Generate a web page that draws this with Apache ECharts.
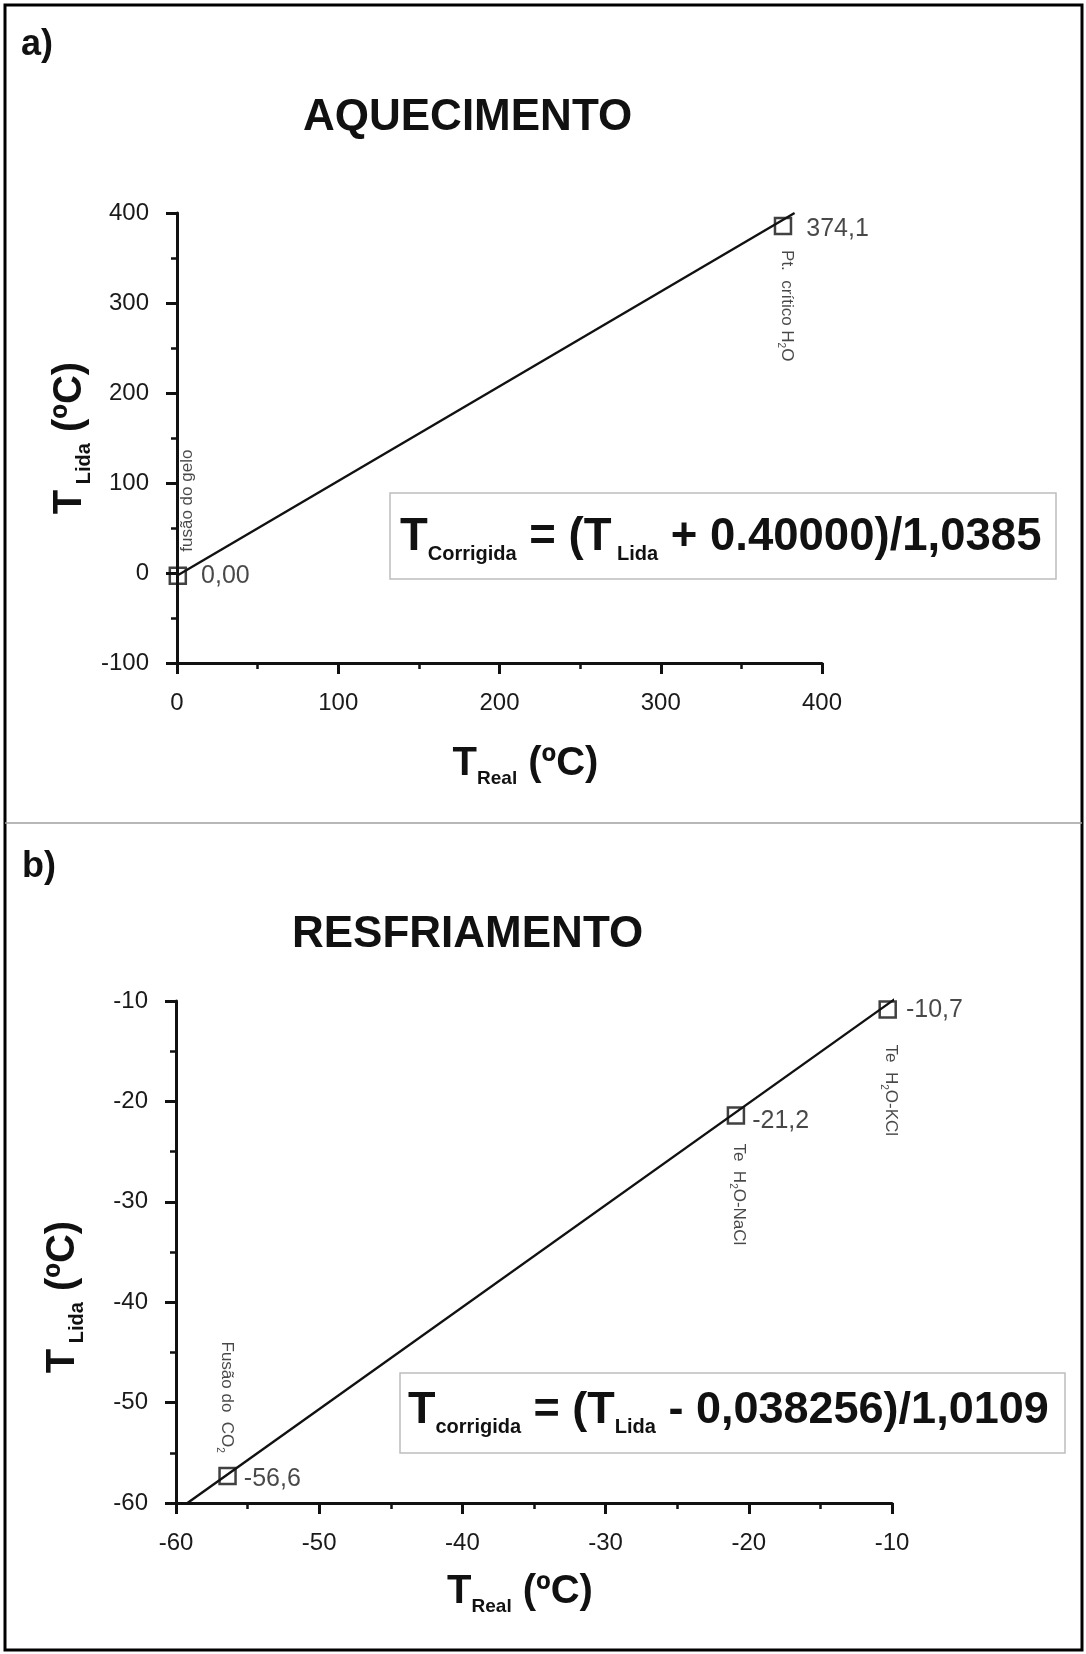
<!DOCTYPE html>
<html>
<head>
<meta charset="utf-8">
<title>Calibração - aquecimento e resfriamento</title>
<script src="https://cdn.jsdelivr.net/npm/echarts@6/dist/echarts.min.js"></script>
<style>
  html, body { margin: 0; padding: 0; background: #fff; }
  #chart { width: 1086px; height: 1654px; }
</style>
</head>
<body>
<div id="chart"></div>
<script>
// a) aquecimento: pontos de calibração (T real x T lida)
var realA = [0.5, 375.8];
var lidaA = [-3, 385.5];
var valorA = ['0,00', '374,1'];
var nomeA = ['fusão do gelo', 'Pt.  crítico H2O'];
var retaRealA = [1, 383];
var retaLidaA = [-2, 400];
var eixoRealA = [0, 400, 100];     // min, max, passo
var eixoLidaA = [-100, 400, 100];
var formulaA = ['T', 'Corrigida', ' = (T', ' Lida', ' + 0.40000)/1,0385'];

// b) resfriamento
var realB = [-56.4, -20.9, -10.3];
var lidaB = [-57.3, -21.4, -10.85];
var valorB = ['-56,6', '-21,2', '-10,7'];
var nomeB = ['Fusão do  CO2', 'Te  H2O-NaCl', 'Te  H2O-KCl'];
var retaRealB = [-59.2, -9.8];
var retaLidaB = [-60, -9.8];
var eixoRealB = [-60, -10, 10];
var eixoLidaB = [-60, -10, 10];
var formulaB = ['T', 'corrigida', ' = (T', 'Lida', ' - 0,038256)/1,0109'];

var FONT = "'Liberation Sans', Arial, Helvetica, sans-serif";
var INK = '#111';

// posição dos rótulos (valor à direita, nome girado)
var rotValorA = [{ distance: 14, offset: [0, 0] }, { distance: 14, offset: [0, 3] }];
var rotNomeA = [
  { rotate: 90, align: 'left', offset: [24, 13] },
  { rotate: -90, align: 'left', offset: [24, -1] }
];
var rotValorB = [
  { distance: 7, offset: [0, 3] },
  { distance: 7, offset: [0, 6] },
  { distance: 9, offset: [0, 1] }
];
var rotNomeB = [
  { rotate: -90, align: 'right', offset: [-23, 4] },
  { rotate: -90, align: 'left', offset: [28, 0] },
  { rotate: -90, align: 'left', offset: [35, 0] }
];

function pares(xs, ys) {
  return xs.map(function (x, i) { return [x, ys[i]]; });
}

// texto com subscrito: T grande + índice pequeno
function richSub(big, small, drop) {
  return {
    t: { fontSize: big, fontWeight: 'bold', fontFamily: FONT, color: INK,
         lineHeight: big, padding: [0, 0, drop, 0], verticalAlign: 'bottom' },
    s: { fontSize: small, fontWeight: 'bold', fontFamily: FONT, color: INK,
         lineHeight: small, verticalAlign: 'bottom' }
  };
}

function textoFormula(f) {
  return '{t|' + f[0] + '}{s|' + f[1] + '}{t|' + f[2] + '}{s|' + f[3] + '}{t|' + f[4] + '}';
}

var richNome = {
  n: { fontSize: 17, fontFamily: FONT, color: '#1a1a1a', lineHeight: 17,
       padding: [0, 0, 3, 0], verticalAlign: 'bottom' },
  ns: { fontSize: 10, fontFamily: FONT, color: '#1a1a1a', lineHeight: 10, verticalAlign: 'bottom' }
};

function textoNome(s) {
  return '{n|' + s.replace(/(H|CO)2/g, '$1}{ns|2}{n|') + '}';
}

function eixo(grid, r, extra) {
  var ax = {
    gridIndex: grid,
    type: 'value',
    min: r[0], max: r[1], interval: r[2],
    axisLine: { onZero: false, lineStyle: { color: INK, width: 3 } },
    axisTick: { show: true, inside: false, length: 11, lineStyle: { color: INK, width: 3 } },
    minorTick: { show: true, splitNumber: 2, length: 6, lineStyle: { color: INK, width: 2.5 } },
    splitLine: { show: false },
    minorSplitLine: { show: false },
    axisLabel: { fontSize: 24, color: '#1a1a1a', fontFamily: FONT, margin: 28,
                 showMinLabel: true, showMaxLabel: true },
    nameLocation: 'middle',
    nameMoveOverlap: false
  };
  for (var k in extra) ax[k] = extra[k];
  return ax;
}

function series(grid, rx, ry, lx, ly, valores, nomes, rotV, rotN) {
  var pts = pares(rx, ry);
  return [
    {
      type: 'line', xAxisIndex: grid, yAxisIndex: grid,
      data: pares(lx, ly), symbol: 'none', clip: false, silent: true,
      lineStyle: { color: INK, width: 2.4 }, z: 2
    },
    {
      type: 'scatter', xAxisIndex: grid, yAxisIndex: grid,
      symbol: 'rect', symbolSize: 16, z: 3,
      itemStyle: { color: 'rgba(0,0,0,0)', borderColor: INK, borderWidth: 2.5 },
      data: pts.map(function (p, i) {
        return {
          value: p,
          label: {
            show: true, position: 'right', distance: rotV[i].distance, offset: rotV[i].offset,
            formatter: valores[i], fontSize: 25, color: '#1a1a1a', fontFamily: FONT
          }
        };
      })
    },
    {
      type: 'scatter', xAxisIndex: grid, yAxisIndex: grid,
      symbol: 'circle', symbolSize: 1, z: 3, silent: true,
      itemStyle: { color: 'rgba(0,0,0,0)' },
      data: pts.map(function (p, i) {
        return {
          value: p,
          label: {
            show: true, position: 'inside', rotate: rotN[i].rotate, align: rotN[i].align,
            verticalAlign: 'middle', offset: rotN[i].offset,
            formatter: textoNome(nomes[i]), rich: richNome
          }
        };
      })
    }
  ];
}

var chart = echarts.init(document.getElementById('chart'), null, { renderer: 'canvas' });

var nomeEixoX = '{t|T}{s|Real}{t| (ºC)}';
var nomeEixoY = '{t|T}{s| Lida}{t| (ºC)}';

var option = {
  animation: false,
  backgroundColor: '#fff',
  textStyle: { fontFamily: FONT },
  title: [
    { text: 'a)', left: 21, top: 27, padding: 0,
      textStyle: { fontSize: 36, fontWeight: 'bold', color: INK, fontFamily: FONT } },
    { text: 'AQUECIMENTO', left: 303, top: 96, padding: 0,
      textStyle: { fontSize: 44, fontWeight: 'bold', color: INK, fontFamily: FONT } },
    { text: textoFormula(formulaA), left: 390, top: 497, padding: [22, 15, 15, 10],
      borderColor: '#bdbdbd', borderWidth: 1.5,
      textStyle: { rich: richSub(45.5, 20, 4) } },
    { text: 'b)', left: 22, top: 849, padding: 0,
      textStyle: { fontSize: 36, fontWeight: 'bold', color: INK, fontFamily: FONT } },
    { text: 'RESFRIAMENTO', left: 292, top: 913, padding: 0,
      textStyle: { fontSize: 44, fontWeight: 'bold', color: INK, fontFamily: FONT } },
    { text: textoFormula(formulaB), left: 400, top: 1377, padding: [15, 17, 16, 8],
      borderColor: '#bdbdbd', borderWidth: 1.5,
      textStyle: { rich: richSub(45, 20, 4) } }
  ],
  grid: [
    { left: 177, top: 213, width: 645, height: 450, containLabel: false, outerBoundsMode: 'none' },
    { left: 176, top: 1001, width: 716, height: 502, containLabel: false, outerBoundsMode: 'none' }
  ],
  xAxis: [
    eixo(0, eixoRealA, { name: nomeEixoX, nameGap: 85,
      nameTextStyle: { padding: [0, 0, 0, 52], rich: richSub(40, 19, 4) } }),
    eixo(1, eixoRealB, { name: nomeEixoX, nameGap: 73,
      nameTextStyle: { padding: [0, 28, 0, 0], rich: richSub(40, 19, 4) } })
  ],
  yAxis: [
    eixo(0, eixoLidaA, { name: nomeEixoY, nameGap: 83, nameRotate: 90,
      nameTextStyle: { rich: richSub(40, 20, 4) } }),
    eixo(1, eixoLidaB, { name: nomeEixoY, nameGap: 89, nameRotate: 90,
      nameTextStyle: { padding: [0, 90, 0, 0], rich: richSub(40, 20, 4) } })
  ],
  graphic: [
    { type: 'rect', shape: { x: 5, y: 5, width: 1077, height: 1645 },
      style: { fill: 'none', stroke: '#000', lineWidth: 3 }, silent: true },
    { type: 'line', shape: { x1: 5, y1: 823, x2: 1082, y2: 823 },
      style: { stroke: '#a0a0a0', lineWidth: 1.5 }, silent: true }
  ],
  series: [].concat(
    series(0, realA, lidaA, retaRealA, retaLidaA, valorA, nomeA, rotValorA, rotNomeA),
    series(1, realB, lidaB, retaRealB, retaLidaB, valorB, nomeB, rotValorB, rotNomeB)
  )
};

chart.setOption(option);
</script>
</body>
</html>
